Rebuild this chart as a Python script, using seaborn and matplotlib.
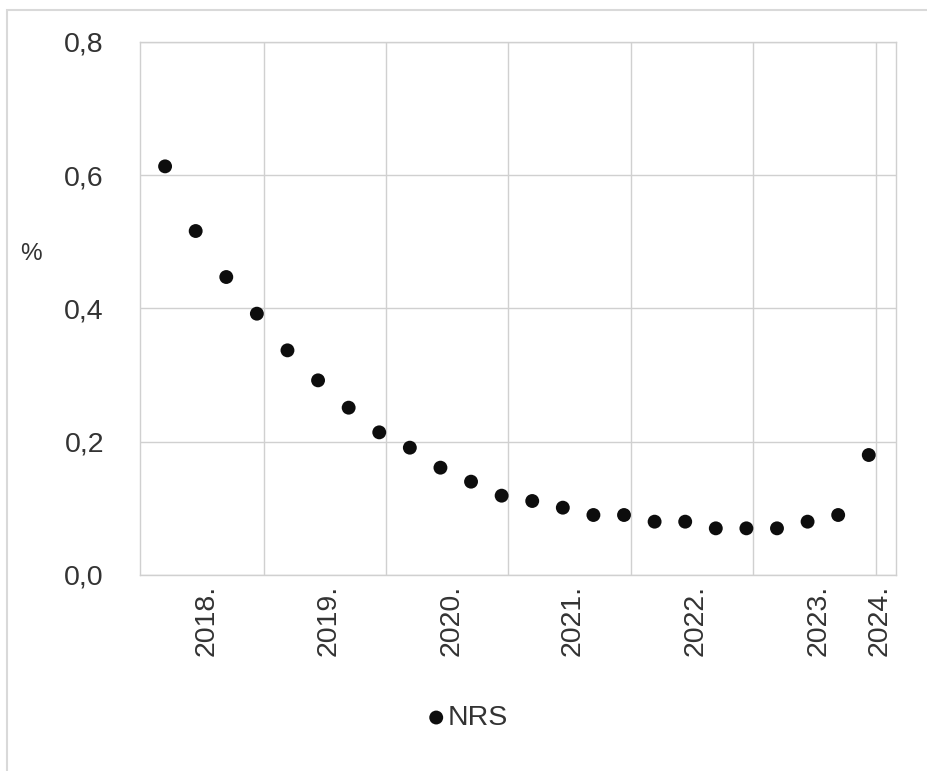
import numpy as np
import pandas as pd
import matplotlib
matplotlib.use("Agg")
import matplotlib.pyplot as plt
from matplotlib.patches import Rectangle
from matplotlib.ticker import FixedLocator, FuncFormatter
import seaborn as sns

# ---- data ----
quarter_pos = list(range(24))  # quarterly observations, in order
nrs_values = [0.613, 0.516, 0.447, 0.392, 0.337, 0.292, 0.251, 0.214,
              0.191, 0.161, 0.140, 0.119, 0.111, 0.101, 0.090, 0.090,
              0.080, 0.080, 0.070, 0.070, 0.070, 0.080, 0.090, 0.180]
year_labels = ["2018.", "2019.", "2020.", "2021.", "2022.", "2023.", "2024."]
year_label_pos = [1.36, 5.36, 9.35, 13.33, 17.33, 21.36, 23.37]
year_grid_pos = [3.23, 7.22, 11.22, 15.22, 19.21, 23.22]
y_ticks = [0.0, 0.2, 0.4, 0.6, 0.8]
series_name = "NRS"

df = pd.DataFrame({"quarter": quarter_pos, "value": nrs_values})

sns.set_theme(style="white")
plt.rcParams["font.family"] = ["Liberation Sans", "DejaVu Sans"]

W, H = 927, 771
fig = plt.figure(figsize=(W / 100, H / 100), dpi=100)
ax = fig.add_axes([140 / W, 1 - 575 / H, (896 - 140) / W, (575 - 41.7) / H])

grid_c = "#d0d0d0"
text_c = "#333333"
fs = 20.5

sns.scatterplot(data=df, x="quarter", y="value", ax=ax, s=100, color="#0d0d0d",
                edgecolor="none", label=series_name, zorder=3)

ax.set_xlim(-0.82, 23.89)
ax.set_ylim(0, 0.8)

ax.yaxis.set_major_locator(FixedLocator(y_ticks))
ax.yaxis.set_major_formatter(FuncFormatter(lambda v, p: f"{v:.1f}".replace(".", ",")))
ax.set_xticks(year_label_pos)
ax.set_xticklabels(year_labels, rotation=90)
ax.set_xticks(year_grid_pos, minor=True)

ax.grid(False)
ax.yaxis.grid(True, which="major", color=grid_c, lw=1.0)
ax.xaxis.grid(True, which="minor", color=grid_c, lw=1.0)
ax.set_axisbelow(True)

ax.tick_params(axis="both", which="both", length=0, colors=text_c, labelsize=fs)
ax.tick_params(axis="y", pad=26)
ax.tick_params(axis="x", pad=7)
for sp in ax.spines.values():
    sp.set_visible(True)
    sp.set_color(grid_c)
    sp.set_linewidth(1.0)

ax.set_xlabel("")
ax.set_ylabel("")

fig.text(31 / W, 1 - 254 / H, "%", ha="center", va="center", fontsize=fs * 0.85, color=text_c)

handles, labels = ax.get_legend_handles_labels()
ax.get_legend().remove()
fig.legend(handles, labels, loc="center", bbox_to_anchor=(0.5, 1 - 718 / H),
           frameon=False, fontsize=fs, handletextpad=-0.2, handlelength=1.2,
           labelcolor=text_c)

# outer chart border (partially cropped in the reference)
fig.add_artist(Rectangle((7 / W, -0.2), 1.5, 0.2 + (1 - 9.5 / H), transform=fig.transFigure,
                         fill=False, edgecolor="#d9d9d9", lw=1.5, clip_on=False))

fig.savefig("out.png", dpi=100)
